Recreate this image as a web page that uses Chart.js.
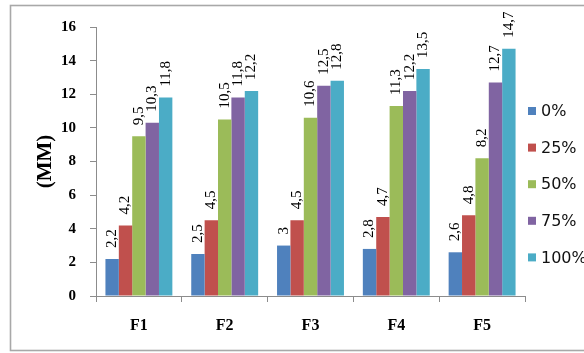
<!DOCTYPE html>
<html>
<head>
<meta charset="utf-8">
<script src="https://cdn.jsdelivr.net/npm/chart.js@4"></script>
<style>
html,body{margin:0;padding:0;background:#fff;}
#wrap{width:584px;height:353px;position:relative;}
</style>
</head>
<body>
<div id="wrap"><canvas id="c" width="584" height="353"></canvas></div>
<script>
const categories = ['F1', 'F2', 'F3', 'F4', 'F5'];
const seriesNames = ['0%', '25%', '50%', '75%', '100%'];
const s0 = [2.2, 2.5, 3, 2.8, 2.6];
const s25 = [4.2, 4.5, 4.5, 4.7, 4.8];
const s50 = [9.5, 10.5, 10.6, 11.3, 8.2];
const s75 = [10.3, 11.8, 12.5, 12.2, 12.7];
const s100 = [11.8, 12.2, 12.8, 13.5, 14.7];
const yTicks = [0, 2, 4, 6, 8, 10, 12, 14, 16];
const colors = ['#4F81BD', '#C0504D', '#9BBB59', '#8064A2', '#4BACC6'];

const SERIF = '"Liberation Serif", "Times New Roman", serif';
const SANS = '"DejaVu Sans", Verdana, sans-serif';

const frame = {
  id: 'frame',
  beforeDraw(chart) {
    const ctx = chart.ctx;
    ctx.save();
    ctx.fillStyle = '#fff';
    ctx.fillRect(0, 0, chart.width, chart.height);
    ctx.strokeStyle = '#a8a8a8';
    ctx.lineWidth = 1.6;
    ctx.strokeRect(10.5, 5.5, 700, 345);
    ctx.restore();
  }
};

const valueLabels = {
  id: 'valueLabels',
  afterDatasetsDraw(chart) {
    const ctx = chart.ctx;
    ctx.save();
    ctx.font = '15px ' + SERIF;
    ctx.fillStyle = '#000';
    ctx.textAlign = 'left';
    ctx.textBaseline = 'middle';
    chart.data.datasets.forEach((ds, i) => {
      const meta = chart.getDatasetMeta(i);
      meta.data.forEach((bar, j) => {
        const txt = String(ds.data[j]).replace('.', ',');
        ctx.save();
        ctx.translate(bar.x, bar.y - 11);
        ctx.rotate(-Math.PI / 2);
        ctx.fillText(txt, 0, 0);
        ctx.restore();
      });
    });
    ctx.restore();
  }
};

const sideLegend = {
  id: 'sideLegend',
  afterDraw(chart) {
    const ctx = chart.ctx;
    ctx.save();
    ctx.font = '16px ' + SANS;
    ctx.textAlign = 'left';
    ctx.textBaseline = 'middle';
    chart.data.datasets.forEach((ds, i) => {
      const cy = 111 + i * 36.6;
      ctx.fillStyle = ds.backgroundColor;
      ctx.fillRect(528, cy - 4, 8, 8);
      ctx.fillStyle = '#111';
      ctx.fillText(ds.label, 541, cy + 1);
    });
    ctx.restore();
  }
};

const allSeries = [s0, s25, s50, s75, s100];

new Chart(document.getElementById('c'), {
  type: 'bar',
  data: {
    labels: categories,
    datasets: allSeries.map((d, i) => ({
      label: seriesNames[i],
      data: d,
      backgroundColor: colors[i],
      borderWidth: 0,
      categoryPercentage: 0.78,
      barPercentage: 1.0
    }))
  },
  options: {
    responsive: false,
    animation: false,
    devicePixelRatio: 1,
    layout: { padding: { left: 0, top: 27, right: 59, bottom: 0 } },
    plugins: {
      legend: { display: false },
      tooltip: { enabled: false }
    },
    scales: {
      x: {
        grid: { display: true, drawOnChartArea: false, drawTicks: true, tickLength: 6, color: '#8c8c8c', offset: true },
        border: { display: true, color: '#8c8c8c', width: 1 },
        ticks: { color: '#000', font: { family: SERIF, size: 16, weight: 'bold' }, padding: 14 },
        afterFit(scale) { scale.height = 57; }
      },
      y: {
        min: 0, max: 16,
        afterBuildTicks(scale) { scale.ticks = yTicks.map(v => ({ value: v })); },
        grid: { display: true, drawOnChartArea: false, drawTicks: true, tickLength: 6, color: '#8c8c8c' },
        border: { display: true, color: '#8c8c8c', width: 1 },
        ticks: { color: '#000', font: { family: SERIF, size: 15, weight: 'bold' }, padding: 14 },
        title: { display: true, text: '(MM)', color: '#000', font: { family: SERIF, size: 21, weight: 'bold' }, padding: { top: 33, bottom: 0 } },
        afterFit(scale) { scale.width = 96; }
      }
    }
  },
  plugins: [frame, valueLabels, sideLegend]
});
</script>
</body>
</html>
